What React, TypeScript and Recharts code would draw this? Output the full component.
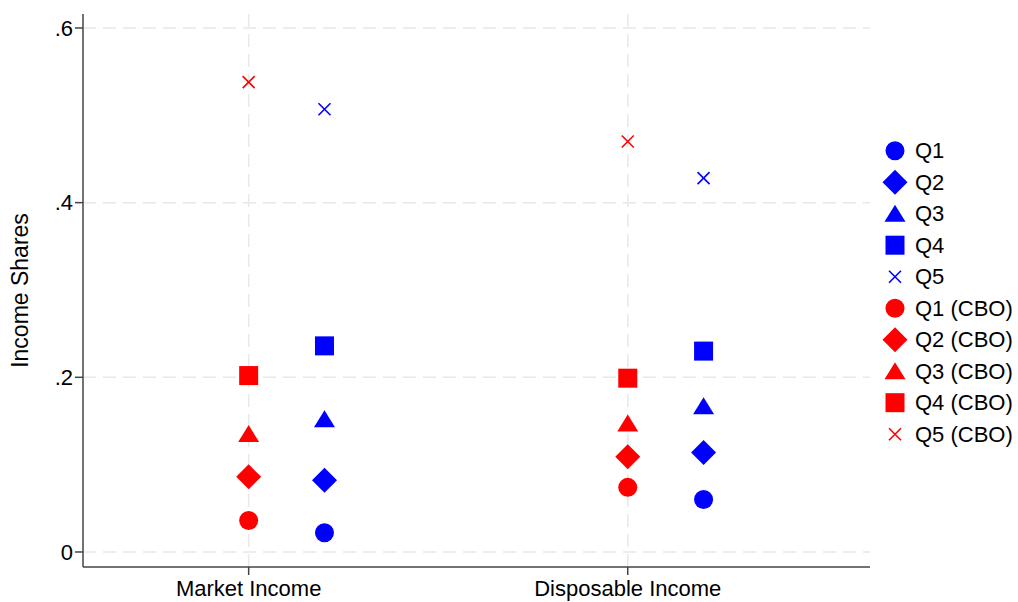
import { ScatterChart, Scatter, XAxis, YAxis, CartesianGrid, Label } from 'recharts';

// categories on the x axis and where they sit on the numeric x scale
const categories = ['Market Income', 'Disposable Income'];
const categoryPos = [1, 2];
const yTicks = [0, 0.2, 0.4, 0.6];

// own estimates (blue), [market, disposable]
const ownQ1 = [0.022, 0.060];
const ownQ2 = [0.082, 0.114];
const ownQ3 = [0.152, 0.167];
const ownQ4 = [0.236, 0.230];
const ownQ5 = [0.507, 0.428];

// CBO figures (red)
const cboQ1 = [0.036, 0.074];
const cboQ2 = [0.086, 0.109];
const cboQ3 = [0.135, 0.147];
const cboQ4 = [0.202, 0.199];
const cboQ5 = [0.538, 0.470];

const X_DOMAIN: [number, number] = [0.563, 2.639];
const Y_DOMAIN: [number, number] = [-0.0172, 0.616];

const BLUE = '#0000ff';
const RED = '#ff0000';
const FONT = '"Liberation Sans", Arial, Helvetica, sans-serif';

type Marker = 'circle' | 'diamond' | 'triangle' | 'square' | 'cross';

const series: { name: string; values: number[]; marker: Marker; color: string; offset: number }[] = [
  { name: 'Q1', values: ownQ1, marker: 'circle', color: BLUE, offset: 0.2 },
  { name: 'Q2', values: ownQ2, marker: 'diamond', color: BLUE, offset: 0.2 },
  { name: 'Q3', values: ownQ3, marker: 'triangle', color: BLUE, offset: 0.2 },
  { name: 'Q4', values: ownQ4, marker: 'square', color: BLUE, offset: 0.2 },
  { name: 'Q5', values: ownQ5, marker: 'cross', color: BLUE, offset: 0.2 },
  { name: 'Q1 (CBO)', values: cboQ1, marker: 'circle', color: RED, offset: 0 },
  { name: 'Q2 (CBO)', values: cboQ2, marker: 'diamond', color: RED, offset: 0 },
  { name: 'Q3 (CBO)', values: cboQ3, marker: 'triangle', color: RED, offset: 0 },
  { name: 'Q4 (CBO)', values: cboQ4, marker: 'square', color: RED, offset: 0 },
  { name: 'Q5 (CBO)', values: cboQ5, marker: 'cross', color: RED, offset: 0 },
];

function MarkerShape({ cx, cy, marker, color }: { cx: number; cy: number; marker: Marker; color: string }) {
  if (cx == null || cy == null) return null;
  switch (marker) {
    case 'circle':
      return <circle cx={cx} cy={cy} r={9.5} fill={color} />;
    case 'square':
      return <rect x={cx - 9.5} y={cy - 9.5} width={19} height={19} fill={color} />;
    case 'diamond':
      return <polygon points={`${cx},${cy - 12.5} ${cx + 12.5},${cy} ${cx},${cy + 12.5} ${cx - 12.5},${cy}`} fill={color} />;
    case 'triangle':
      return <polygon points={`${cx},${cy - 9} ${cx + 10.5},${cy + 8} ${cx - 10.5},${cy + 8}`} fill={color} />;
    case 'cross':
      return (
        <g stroke={color} strokeWidth={1.6}>
          <line x1={cx - 6} y1={cy - 6} x2={cx + 6} y2={cy + 6} />
          <line x1={cx - 6} y1={cy + 6} x2={cx + 6} y2={cy - 6} />
        </g>
      );
  }
  return null;
}

const fmtY = (v: number) => (v === 0 ? '0' : v.toFixed(1).replace(/^0/, ''));
const fmtX = (v: number) => categories[categoryPos.indexOf(v)] ?? '';

// grid only at the ticks (not along the plot edges)
const hGrid = ({ offset }: any) =>
  yTicks.map(t => offset.top + offset.height * (1 - (t - Y_DOMAIN[0]) / (Y_DOMAIN[1] - Y_DOMAIN[0])));
const vGrid = ({ offset }: any) =>
  categoryPos.map(t => offset.left + offset.width * ((t - X_DOMAIN[0]) / (X_DOMAIN[1] - X_DOMAIN[0])));

export default function App() {
  return (
    <div style={{ position: 'absolute', left: 0, top: 0, width: 1018, height: 602, background: '#fff', fontFamily: FONT }}>
      <ScatterChart width={1018} height={602} margin={{ top: 14, right: 148, bottom: 0, left: 0 }}>
        <CartesianGrid
          strokeDasharray="13 7"
          stroke="#e8e8e8"
          strokeWidth={1.5}
          horizontalCoordinatesGenerator={hGrid}
          verticalCoordinatesGenerator={vGrid}
        />
        <XAxis
          type="number"
          dataKey="x"
          domain={X_DOMAIN}
          ticks={categoryPos}
          tickFormatter={fmtX}
          allowDataOverflow
          height={35}
          tickSize={8}
          tick={{ fontSize: 22, fill: '#000', fontFamily: FONT, dy: 3 }}
          axisLine={{ stroke: '#444', strokeWidth: 1.5 }}
          tickLine={{ stroke: '#444', strokeWidth: 1.5 }}
        />
        <YAxis
          type="number"
          dataKey="y"
          domain={Y_DOMAIN}
          ticks={yTicks}
          tickFormatter={fmtY}
          allowDataOverflow
          width={83}
          tickSize={8}
          tick={{ fontSize: 22, fill: '#000', fontFamily: FONT }}
          axisLine={{ stroke: '#444', strokeWidth: 1.5 }}
          tickLine={{ stroke: '#444', strokeWidth: 1.5 }}
        >
          <Label
            content={({ viewBox }: any) => {
              const x = (viewBox?.x ?? 0) + 20;
              const y = (viewBox?.y ?? 0) + (viewBox?.height ?? 0) / 2;
              return (
                <text x={x} y={y} transform={`rotate(-90 ${x} ${y})`} textAnchor="middle" dominantBaseline="central" fontSize={23} fill="#000" fontFamily={FONT}>
                  Income Shares
                </text>
              );
            }}
          />
        </YAxis>
        {series.map(s => (
          <Scatter
            key={s.name}
            name={s.name}
            data={s.values.map((v, i) => ({ x: categoryPos[i] + s.offset, y: v }))}
            isAnimationActive={false}
            shape={(p: any) => <MarkerShape cx={p.cx} cy={p.cy} marker={s.marker} color={s.color} />}
          />
        ))}
      </ScatterChart>

      {/* legend */}
      <svg width={148} height={340} style={{ position: 'absolute', left: 870, top: 120 }}>
        {series.map((s, i) => {
          const cy = 30.7 + i * 31.5;
          return (
            <g key={s.name}>
              <MarkerShape cx={25} cy={cy} marker={s.marker} color={s.color} />
              <text x={45} y={cy} dominantBaseline="central" fontSize={22} fill="#000" fontFamily={FONT}>
                {s.name}
              </text>
            </g>
          );
        })}
      </svg>
    </div>
  );
}
